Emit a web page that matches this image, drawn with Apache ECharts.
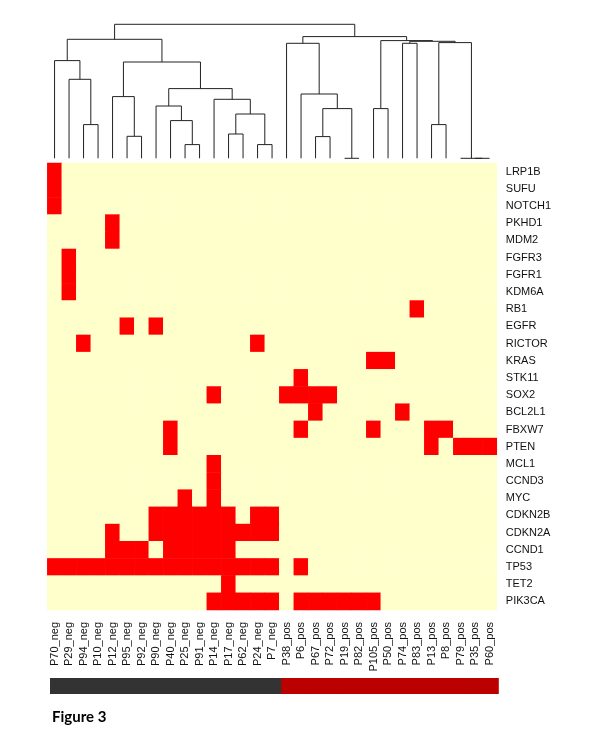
<!DOCTYPE html>
<html>
<head>
<meta charset="utf-8">
<script src="https://cdn.jsdelivr.net/npm/echarts@6/dist/echarts.min.js"></script>
<style>
  html, body { margin: 0; padding: 0; background: #fff; }
  #chart { width: 600px; height: 734px; }
</style>
</head>
<body>
<div id="chart"></div>
<script>
const samples = [
  'P70_neg', 'P29_neg', 'P94_neg', 'P10_neg', 'P12_neg', 'P95_neg', 'P92_neg', 'P90_neg',
  'P40_neg', 'P25_neg', 'P91_neg', 'P14_neg', 'P17_neg', 'P62_neg', 'P24_neg', 'P7_neg',
  'P38_pos', 'P6_pos', 'P67_pos', 'P72_pos', 'P19_pos', 'P82_pos', 'P105_pos', 'P50_pos',
  'P74_pos', 'P83_pos', 'P13_pos', 'P8_pos', 'P79_pos', 'P35_pos', 'P60_pos'
]
const groups = [
  'neg', 'neg', 'neg', 'neg', 'neg', 'neg', 'neg', 'neg', 'neg', 'neg', 'neg', 'neg', 'neg', 'neg', 'neg', 'neg',
  'pos', 'pos', 'pos', 'pos', 'pos', 'pos', 'pos', 'pos', 'pos', 'pos', 'pos', 'pos', 'pos', 'pos', 'pos'
]
const genes = [
  'LRP1B', 'SUFU', 'NOTCH1', 'PKHD1', 'MDM2', 'FGFR3', 'FGFR1', 'KDM6A', 'RB1', 'EGFR',
  'RICTOR', 'KRAS', 'STK11', 'SOX2', 'BCL2L1', 'FBXW7', 'PTEN', 'MCL1', 'CCND3', 'MYC',
  'CDKN2B', 'CDKN2A', 'CCND1', 'TP53', 'TET2', 'PIK3CA'
]
// altered samples (column index) for each gene, same order as genes
const altered = [
  [0], [0], [0], [4], [4], [1], [1], [1], [25], [5, 7],
  [2, 14], [22, 23], [17], [11, 16, 17, 18, 19], [18, 24], [8, 17, 22, 26, 27], [8, 26, 28, 29, 30],
  [11], [11], [9, 11],
  [7, 8, 9, 10, 11, 12, 14, 15],
  [4, 7, 8, 9, 10, 11, 12, 13, 14, 15],
  [4, 5, 6, 8, 9, 10, 11, 12],
  [0, 1, 2, 3, 4, 5, 6, 7, 8, 9, 10, 11, 12, 13, 14, 15, 17],
  [12],
  [11, 12, 13, 14, 15, 17, 18, 19, 20, 21, 22]
]
// hclust style merges: -k = leaf (column k-1), +k = merge k; third value = height
const merges = [
  [-3, -4, 33.7], [-2, 1, 79], [-1, 2, 97.7], [-6, -7, 22], [-5, 4, 61.7],
  [-10, -11, 13.7], [-9, 6, 37.7], [-8, 7, 52.3], [-13, -14, 24.3], [-15, -16, 13.7],
  [9, 10, 44.3], [-12, 11, 59], [8, 12, 69.7], [5, 13, 96.3], [3, 14, 119],
  [-19, -20, 21.7], [-21, -22, 0], [16, 17, 49.7], [-18, 18, 64.3], [-17, 19, 115],
  [-23, -24, 49.7], [-27, -28, 33.7], [-30, -31, 0], [-29, 23, 0], [-25, -26, 115],
  [22, 24, 115.7], [25, 26, 117], [21, 27, 117.7], [20, 28, 121.7], [15, 29, 134]
]
const groupColors = { neg: '#333333', pos: '#BB0000' }

// cell values: 0 = none, 1 = altered
const cells = []
genes.forEach((g, r) => {
  samples.forEach((s, c) => {
    cells.push([c, r, altered[r].includes(c) ? 1 : 0])
  })
})
const groupCells = groups.map((g, c) => [c, 0, g])

// dendrogram segments from merges
const nodePos = []
function pos(k) {
  return k < 0 ? [-k - 1, 0] : nodePos[k - 1]
}
const links = merges.map((m, i) => {
  const a = pos(m[0])
  const b = pos(m[1])
  nodePos[i] = [(a[0] + b[0]) / 2, m[2]]
  return [a[0], a[1], b[0], b[1], m[2]]
})

const chart = echarts.init(document.getElementById('chart'))
const font = "'Liberation Sans', Arial, sans-serif"

const option = {
  animation: false,
  grid: [
    { left: 47.3, top: 24.3, width: 449.5, height: 134 },
    { left: 47.3, top: 163, width: 449.5, height: 447 },
    { left: 50, top: 678, width: 448, height: 16 }
  ],
  xAxis: [
    { gridIndex: 0, type: 'value', min: -0.5, max: 30.5, show: false },
    {
      gridIndex: 1, type: 'category', data: samples, position: 'bottom',
      axisLine: { show: false }, axisTick: { show: false },
      axisLabel: { rotate: 90, interval: 0, margin: 12, fontSize: 11, color: '#111', fontFamily: font }
    },
    { gridIndex: 2, type: 'category', data: samples, show: false }
  ],
  yAxis: [
    { gridIndex: 0, type: 'value', min: 0, max: 134, show: false },
    {
      gridIndex: 1, type: 'category', data: genes, inverse: true, position: 'right',
      axisLine: { show: false }, axisTick: { show: false },
      axisLabel: { margin: 9, fontSize: 11, color: '#111', fontFamily: font }
    },
    { gridIndex: 2, type: 'category', data: ['group'], show: false }
  ],
  visualMap: {
    type: 'piecewise', show: false, seriesIndex: 1, dimension: 2,
    pieces: [
      { value: 0, color: '#FFFFCC' },
      { value: 1, color: '#FF0000' }
    ]
  },
  graphic: [{
    type: 'text', left: 52, top: 710,
    style: { text: 'Figure 3', font: "bold 15px Lato, 'Open Sans', sans-serif", fill: '#000' }
  }],
  series: [
    {
      type: 'custom', xAxisIndex: 0, yAxisIndex: 0, silent: true,
      encode: { x: [0, 2], y: [1, 3, 4] },
      data: links,
      renderItem: (params, api) => {
        const p1 = api.coord([api.value(0), api.value(1)])
        const p2 = api.coord([api.value(0), api.value(4)])
        const p3 = api.coord([api.value(2), api.value(4)])
        const p4 = api.coord([api.value(2), api.value(3)])
        return {
          type: 'polyline',
          shape: { points: [p1, p2, p3, p4] },
          style: { stroke: '#222', lineWidth: 1, fill: null }
        }
      }
    },
    {
      type: 'heatmap', xAxisIndex: 1, yAxisIndex: 1, data: cells,
      emphasis: { disabled: true }, itemStyle: { borderWidth: 0 }
    },
    {
      type: 'custom', xAxisIndex: 2, yAxisIndex: 2, silent: true,
      data: groupCells,
      renderItem: (params, api) => {
        const c = api.coord([api.value(0), 0])
        const s = api.size([1, 1])
        return {
          type: 'rect',
          shape: { x: c[0] - s[0] / 2, y: c[1] - s[1] / 2, width: s[0] + 0.8, height: s[1] },
          style: { fill: groupColors[groups[params.dataIndex]] }
        }
      }
    }
  ]
}

chart.setOption(option)
</script>
</body>
</html>
